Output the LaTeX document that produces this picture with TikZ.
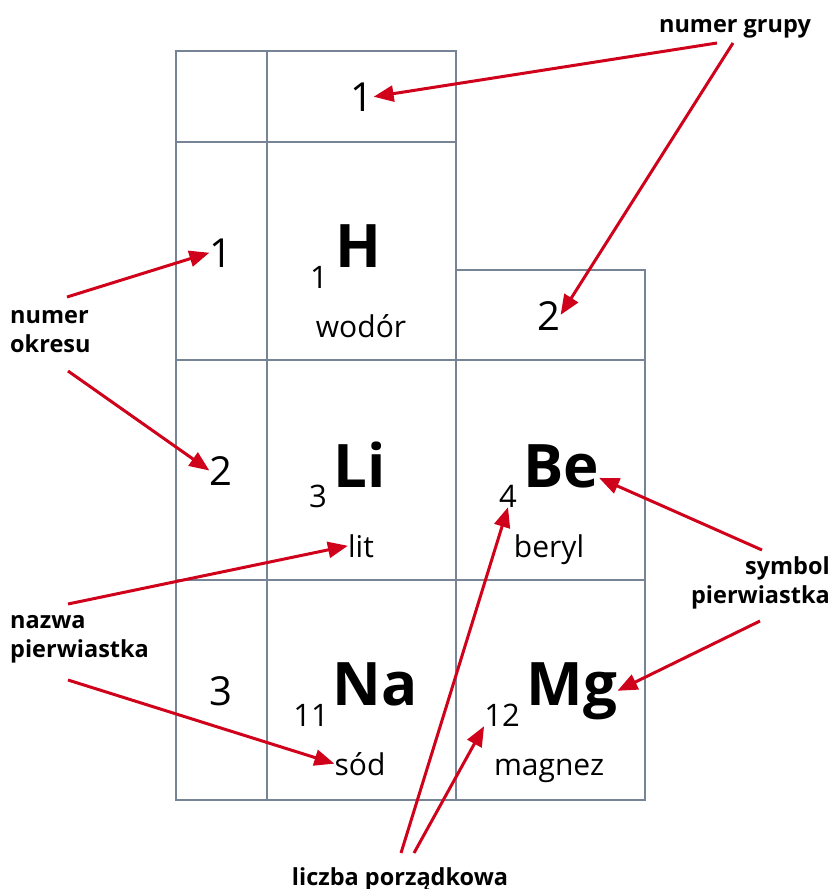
\documentclass[tikz,border=0pt]{standalone}
\usepackage{fontspec}
\setmainfont{Open Sans}
\usetikzlibrary{arrows.meta,calc}
\definecolor{gridline}{RGB}{118,132,150}
\definecolor{pointer}{RGB}{208,2,27}

\begin{document}
\begin{tikzpicture}[
    x=1pt, y=-1pt,
    every node/.style={inner sep=0pt, anchor=base},
    cell/.style={draw=gridline, line width=2pt},
    hdr/.style={font=\fontsize{40}{44}\selectfont},
    sym/.style={font=\fontsize{60}{64}\selectfont\bfseries},
    zno/.style={font=\fontsize{31}{34}\selectfont},
    ename/.style={font=\fontsize{30}{33}\selectfont},
    lbl/.style={font=\fontsize{23.5}{28.5}\selectfont\bfseries},
    arr/.style={draw=pointer, line width=3pt, -{Triangle[length=20pt,width=16pt]}}
]
\useasboundingbox (0,0) rectangle (835,889);

% grid of the table
\draw[cell] (176,51) rectangle (267,142);
\draw[cell] (267,51) rectangle (456,142);
\draw[cell] (176,142) rectangle (267,360);
\draw[cell] (267,142) rectangle (456,360);
\draw[cell] (456,270) rectangle (645,360);
\foreach \xa/\xb in {176/267,267/456,456/645}
  \foreach \ya/\yb in {360/580,580/800}
    \draw[cell] (\xa,\ya) rectangle (\xb,\yb);

% group and period numbers
\node[hdr] (g1) at (362,111) {1};
\node[hdr] (g2) at (549,330) {2};
\node[hdr] (p1) at (221,267) {1};
\node[hdr] (p2) at (221,485) {2};
\node[hdr] (p3) at (221,705) {3};

% elements
\node[sym] (h)  at (358,267) {H};
\node[zno] (zh) at (319,288) {1};
\node[ename] (wodor) at (361,337) {wodór};

\node[sym] (li) at (360,487) {Li};
\node[zno] (zli) at (318,507) {3};
\node[ename] (lit) at (361,557) {lit};

\node[sym] (be) at (561,487) {Be};
\node[zno] (zbe) at (508,507) {4};
\node[ename] (beryl) at (549,557) {beryl};

\node[sym] (na) at (375,705) {Na};
\node[zno] (zna) at (311,726) {11};
\node[ename] (sod) at (360,775) {sód};

\node[sym] (mg) at (572,705) {Mg};
\node[zno] (zmg) at (502,726) {12};
\node[ename] (magnez) at (549,775) {magnez};

% labels (base = last line)
\node[lbl] (grupy) at (735,32) {numer grupy};
\node[lbl, align=left, anchor=base west] (okresu) at (10,352) {numer\\okresu};
\node[lbl, align=left, anchor=base west] (nazwa) at (10,657) {nazwa\\pierwiastka};
\node[lbl, align=right, anchor=base east] (symbol) at (830,603) {symbol\\pierwiastka};
\node[lbl] (liczba) at (400,885) {liczba porządkowa};

\coordinate (grA) at (717,43);
\coordinate (grB) at (733,43);
\coordinate (okA) at (67,297);
\coordinate (okB) at (68,371);
\coordinate (nzA) at (68,604);
\coordinate (nzB) at (68,680);
\coordinate (syA) at (762,550);
\coordinate (syB) at (760,621);
\coordinate (lpA) at (401,853);
\coordinate (lpB) at (414,853);

% pointers
\draw[arr] (grA) -- (g1.east);
\draw[arr] (grB) -- ([yshift=-14pt]g2.north east);
\draw[arr] (okA) -- (p1.west);
\draw[arr] (okB) -- (p2.west);
\draw[arr] (nzA) -- (lit.west);
\draw[arr] (nzB) -- (sod.west);
\draw[arr] (syA) -- ([yshift=-12pt]be.east);
\draw[arr] (syB) -- (mg.east);
\draw[arr] (lpA) -- (zbe.south);
\draw[arr] (lpB) -- (zmg.south west);
\end{tikzpicture}
\end{document}
